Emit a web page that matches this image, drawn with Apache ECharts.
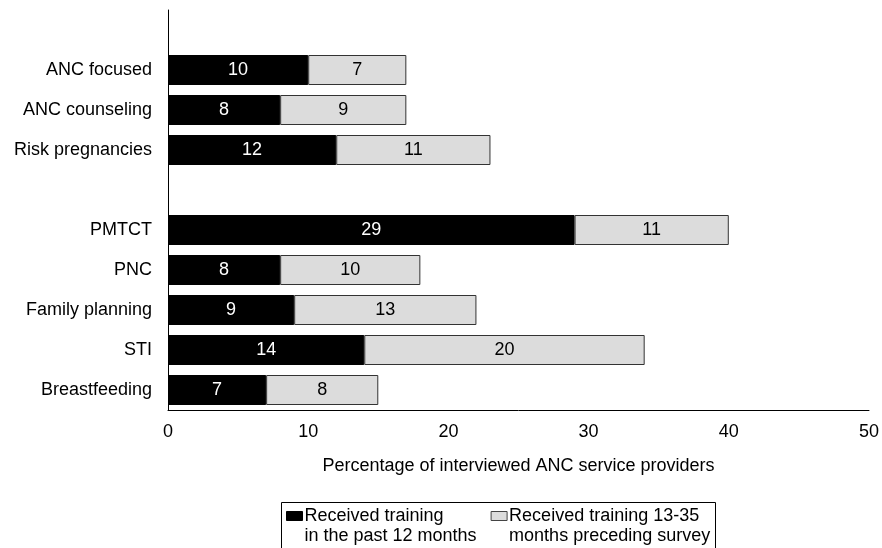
<!DOCTYPE html>
<html>
<head>
<meta charset="utf-8">
<script src="https://cdn.jsdelivr.net/npm/echarts@6/dist/echarts.min.js"></script>
<style>html,body{margin:0;padding:0;background:#fff;}#c{width:882px;height:548px;}</style>
</head>
<body>
<div id="c"></div>
<script>
var categories = [' ', 'ANC focused', 'ANC counseling', 'Risk pregnancies', '  ', 'PMTCT', 'PNC', 'Family planning', 'STI', 'Breastfeeding'];
var past12 = [null, 10, 8, 12, null, 29, 8, 9, 14, 7];
var months13to35 = [null, 7, 9, 11, null, 11, 10, 13, 20, 8];
var seriesNames = ['Received training\nin the past 12 months', 'Received training 13-35\nmonths preceding survey'];
var xTicks = [0, 10, 20, 30, 40, 50];
var xTitle = 'Percentage of interviewed ANC service providers';

var FONT = 'Liberation Sans, Arial, sans-serif';
var FS = 18;
var chart = echarts.init(document.getElementById('c'), null, {renderer: 'canvas'});
chart.setOption({
  animation: false,
  backgroundColor: '#fff',
  textStyle: {fontFamily: FONT},
  grid: {left: 168, right: 10, top: 10, bottom: 138, containLabel: false},
  xAxis: {
    type: 'value', min: xTicks[0], max: xTicks[xTicks.length - 1], interval: 10,
    axisLine: {show: true, lineStyle: {color: '#000', width: 1}},
    axisTick: {show: false},
    splitLine: {show: false},
    axisLabel: {color: '#000', fontSize: FS, fontFamily: FONT, margin: 13},
    name: xTitle, nameLocation: 'middle', nameGap: 47,
    nameTextStyle: {color: '#000', fontSize: FS, fontFamily: FONT}
  },
  yAxis: {
    type: 'category', inverse: true, data: categories,
    axisLine: {show: true, lineStyle: {color: '#000', width: 1}},
    axisTick: {show: false},
    axisLabel: {color: '#000', fontSize: FS, fontFamily: FONT, margin: 16}
  },
  legend: {
    left: 286, top: 486, padding: 0,
    itemWidth: 16, itemHeight: 9, itemGap: 14,
    icon: 'rect',
    selectedMode: false,
    formatter: function (n) { return '\n' + n; },
    textStyle: {color: '#000', fontSize: FS, fontFamily: FONT, lineHeight: 20, padding: [0, 0, 0, -3]},
    data: [
      {name: seriesNames[0], itemStyle: {color: '#000', borderColor: '#000', borderWidth: 1}},
      {name: seriesNames[1], itemStyle: {color: '#dcdcdc', borderColor: '#444', borderWidth: 1}}
    ]
  },
  graphic: [{
    type: 'rect', shape: {x: 281.5, y: 502.5, width: 434, height: 60},
    style: {fill: 'none', stroke: '#000', lineWidth: 1}, z: 100
  }],
  series: [
    {
      name: seriesNames[0], type: 'bar', stack: 't', data: past12,
      barCategoryGap: '25%',
      itemStyle: {color: '#000', borderColor: '#000', borderWidth: 1},
      label: {show: true, position: 'inside', color: '#fff', fontSize: FS, fontFamily: FONT}
    },
    {
      name: seriesNames[1], type: 'bar', stack: 't', data: months13to35,
      barCategoryGap: '25%',
      itemStyle: {color: '#dcdcdc', borderColor: '#333', borderWidth: 1},
      label: {show: true, position: 'inside', color: '#000', fontSize: FS, fontFamily: FONT}
    }
  ]
});
</script>
</body>
</html>
